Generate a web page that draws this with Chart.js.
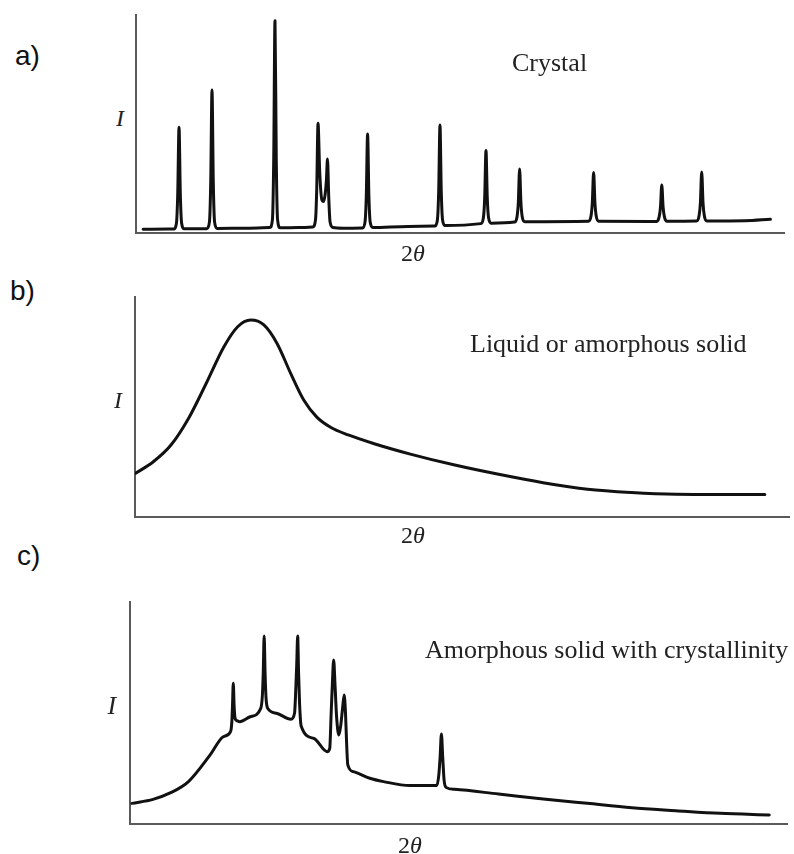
<!DOCTYPE html>
<html>
<head>
<meta charset="utf-8">
<title>Diffraction patterns</title>
<script src="https://cdn.jsdelivr.net/npm/chart.js@4.4.1/dist/chart.umd.min.js"></script>
<style>
  body { margin: 0; background: #fff; }
  #page { position: relative; width: 794px; height: 854px; overflow: hidden; }
  canvas { position: absolute; }
  .lbl { position: absolute; white-space: nowrap; line-height: 1; }
  .tag { font-family: "Liberation Sans", Arial, sans-serif; color: #111; }
  .serif { font-family: "Liberation Serif", "Times New Roman", serif; color: #222; }
  .it { font-style: italic; }
</style>
</head>
<body>
<div id="page">
  <canvas id="chartA"></canvas>
  <canvas id="chartB"></canvas>
  <canvas id="chartC"></canvas>
</div>
<script>
// 2θ runs 0..100 along each x axis, intensity 0..100 up each y axis (arbitrary units)
const thetaRange = [0, 100];
const intensityRange = [0, 100];

// a) crystal: sharp Bragg peaks on a flat background
const crystalPoints = [
  [1.1, 1.7], [5.0, 1.8],
  [5.84, 1.8], [6.24, 4.5], [6.44, 18], [6.64, 48.5], [6.84, 18], [7.04, 4.5], [7.44, 1.9],
  [10.93, 2.0], [11.33, 5], [11.53, 23], [11.73, 65.6], [11.93, 23], [12.13, 5], [12.53, 2.1],
  [17.0, 2.2],
  [20.65, 2.5], [21.05, 6], [21.25, 33], [21.45, 97.4], [21.65, 33], [21.85, 6], [22.25, 2.4],
  [25.0, 2.5],
  [27.3, 2.8], [27.7, 6], [27.89, 20], [28.09, 50.3], [28.35, 28], [28.7, 15], [28.95, 14.4],
  [29.2, 18], [29.38, 24], [29.55, 33.9], [29.75, 16], [29.95, 5], [30.4, 2.5],
  [32.0, 2.2],
  [34.94, 2.3], [35.34, 5], [35.54, 17], [35.74, 45.4], [35.94, 17], [36.14, 5], [36.54, 2.5],
  [42.0, 3.0],
  [46.11, 3.2], [46.51, 6], [46.71, 19], [46.91, 49.5], [47.11, 19], [47.31, 6], [47.71, 3.4],
  [53.21, 4.3], [53.61, 7], [53.81, 16], [54.01, 37.8], [54.21, 16], [54.41, 7], [54.81, 4.5],
  [58.4, 5.0], [58.8, 7.5], [59.0, 14], [59.2, 29.4], [59.4, 14], [59.6, 7.5], [60.0, 5.2],
  [69.82, 5.4], [70.22, 7.8], [70.42, 14], [70.62, 27.7], [70.82, 14], [71.02, 7.8], [71.42, 5.4],
  [80.34, 5.3], [80.74, 7.5], [80.94, 12], [81.14, 22.0], [81.34, 12], [81.54, 7.5], [81.94, 5.4],
  [86.5, 5.5], [86.9, 8], [87.1, 14], [87.3, 28.0], [87.5, 14], [87.7, 8], [88.1, 5.5],
  [94.0, 5.6], [97.9, 6.3]
];

// b) liquid / amorphous: one broad halo
const amorphousPoints = [
  [0.1, 19.9], [2.8, 25.1], [5.5, 32.7], [8.2, 44.9], [10.9, 60.8],
  [13.6, 77.4], [15.7, 86.5], [17.7, 89.5], [19.7, 87.3], [21.7, 79.0],
  [23.8, 65.3], [25.8, 53.2], [27.8, 45.4], [29.9, 40.8], [32.6, 37.3],
  [36.7, 33.2], [42.1, 28.6], [48.9, 23.6], [55.6, 19.4], [62.4, 15.6],
  [69.2, 12.6], [75.9, 11.1], [82.7, 10.3], [89.5, 10.2], [96.3, 10.2]
];

// c) amorphous halo with a few crystalline peaks on top
const mixedPoints = [
  [0.3, 9.3], [3.5, 11.1], [6.2, 14.1], [8.9, 19.1],
  [12.2, 31.1], [14.2, 39.3], [15.3, 41.6],
  [15.5, 46], [15.6, 53], [15.72, 63.4], [15.85, 53], [16.0, 47.5], [16.3, 46.5], [16.7, 46.1],
  [18.3, 48.3], [19.9, 52.1],
  [20.15, 58], [20.28, 68], [20.42, 84.7], [20.56, 68], [20.7, 57], [20.95, 52.1],
  [22.3, 49.9], [24.5, 47.2],
  [25.05, 50], [25.25, 62], [25.38, 72], [25.52, 84.7], [25.66, 68], [25.8, 55], [26.05, 44.1],
  [28.0, 38.5], [30.0, 32.6],
  [30.4, 34], [30.62, 50], [30.8, 63], [31.0, 73.9], [31.2, 63], [31.45, 48], [31.8, 40.1],
  [32.1, 45], [32.35, 52], [32.6, 58.1], [32.8, 50], [32.95, 38], [33.15, 26.6],
  [34.0, 23.6], [36.5, 20.6], [38.6, 19.1], [42.6, 17.3], [46.7, 17.3],
  [47.0, 22], [47.2, 30], [47.4, 40.5], [47.6, 30], [47.8, 20], [48.1, 16.5],
  [49.4, 15.6], [56.1, 13.5], [62.9, 11.3], [69.6, 9.3], [76.4, 7.3],
  [83.1, 6.0], [89.8, 4.8], [97.3, 4.1]
];

const panelTags = ['a)', 'b)', 'c)'];
const sampleNames = ['Crystal', 'Liquid or amorphous solid', 'Amorphous solid with crystallinity'];

// axis boxes on the page (left, top, right, bottom)
const panels = [
  { canvas: 'chartA', points: crystalPoints, box: [136, 15, 784, 233] },
  { canvas: 'chartB', points: amorphousPoints, box: [135, 297, 789, 517] },
  { canvas: 'chartC', points: mixedPoints, box: [130, 602, 787, 824] }
];

function makePlot(p) {
  const m = 8;
  const [l, t, r, b] = p.box;
  const canvas = document.getElementById(p.canvas);
  canvas.width = r - l + 2 * m;
  canvas.height = b - t + 2 * m;
  canvas.style.left = (l - m) + 'px';
  canvas.style.top = (t - m) + 'px';

  const axis = (range) => ({
    type: 'linear',
    min: range[0],
    max: range[1],
    ticks: { display: false },
    grid: { display: false, drawTicks: false },
    border: { display: true, color: '#5a5a5a', width: 2 }
  });

  new Chart(canvas, {
    type: 'line',
    data: {
      datasets: [{
        data: p.points.map(([x, y]) => ({ x, y })),
        borderColor: '#111',
        borderWidth: 3,
        borderJoinStyle: 'round',
        borderCapStyle: 'round',
        pointRadius: 0,
        cubicInterpolationMode: 'monotone',
        fill: false
      }]
    },
    options: {
      responsive: false,
      animation: false,
      events: [],
      layout: { padding: m },
      plugins: { legend: { display: false }, tooltip: { enabled: false } },
      scales: { x: axis(thetaRange), y: axis(intensityRange) }
    }
  });
}

panels.forEach(makePlot);

// text placed by its baseline
const page = document.getElementById('page');
function label(html, cls, size, x, baseline, center) {
  const el = document.createElement('div');
  el.className = 'lbl ' + cls;
  el.style.fontSize = size + 'px';
  el.innerHTML = html;
  const k = cls.indexOf('tag') >= 0 ? 0.8465 : 0.8375;
  el.style.top = (baseline - k * size) + 'px';
  page.appendChild(el);
  el.style.left = (center ? x - el.offsetWidth / 2 : x) + 'px';
}

label(panelTags[0], 'tag', 28, 15, 66);
label(panelTags[1], 'tag', 28, 10, 301);
label(panelTags[2], 'tag', 28, 17, 566);

label('I', 'serif it', 24, 120, 126, true);
label('I', 'serif it', 24, 118, 408, true);
label('I', 'serif it', 26, 112, 715, true);

label(sampleNames[0], 'serif', 26, 512, 72);
label(sampleNames[1], 'serif', 26, 470, 353);
label(sampleNames[2], 'serif', 26, 425, 659);

label('2<span class="it">θ</span>', 'serif', 24, 413, 261, true);
label('2<span class="it">θ</span>', 'serif', 24, 413, 543, true);
label('2<span class="it">θ</span>', 'serif', 24, 410, 853, true);
</script>
</body>
</html>
